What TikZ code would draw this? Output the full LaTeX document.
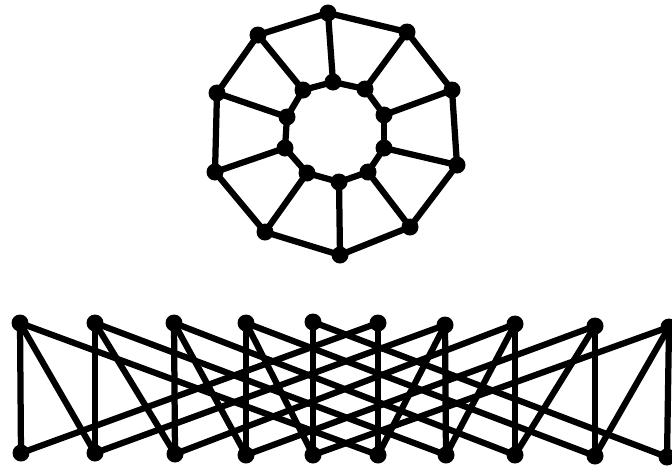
\documentclass[tikz,border=0pt]{standalone}
\usetikzlibrary{positioning}
\begin{document}
\begin{tikzpicture}[x=0.02cm, y=-0.02cm,
    dot/.style={circle, fill=black, inner sep=0pt, minimum size=0.34cm},
    edge/.style={line width=0.125cm, line join=round}]
  \useasboundingbox (0,0) rectangle (672,471);
  \clip (0,0) rectangle (672,471);

  % Prisme : cycle exterieur et cycle interieur
  \foreach \i/\x/\y in {0/328/13, 1/407/32, 2/452/90, 3/457/165, 4/410/227,
                        5/340/255, 6/265/232, 7/215/172, 8/217/93, 9/258/35} {
    \node[dot] (o\i) at (\x,\y) {};
  }
  \foreach \i/\x/\y in {0/333/82, 1/365/89, 2/384/115, 3/384/148, 4/368/172,
                        5/339/182, 6/307/173, 7/285/148, 8/287/117, 9/303/90} {
    \node[dot] (n\i) at (\x,\y) {};
  }
  \foreach \i in {0,...,9} {
    \pgfmathtruncatemacro{\j}{mod(\i+1,10)}
    \draw[edge] (o\i.center) -- (o\j.center);
    \draw[edge] (n\i.center) -- (n\j.center);
    \draw[edge] (o\i.center) -- (n\i.center);
  }

  % Dessin sur deux rangees
  \foreach \i/\xt/\yt/\xb/\yb in {1/20/323/21/453, 2/95/323/95/453, 3/174/323/175/454,
                                  4/246/323/246/455, 5/313/322/313/455, 6/378/323/378/455,
                                  7/445/325/446/455, 8/515/324/515/455, 9/595/326/595/456,
                                  10/669/327/667/457} {
    \node[dot] (t\i) at (\xt,\yt) {};
    \node[dot] (b\i) at (\xb,\yb) {};
    \draw[edge] (t\i.center) -- (b\i.center);
  }
  \foreach \i in {1,...,5} {
    \pgfmathtruncatemacro{\j}{\i+5}
    \draw[edge] (t\i.center) -- (b\j.center);
    \draw[edge] (b\i.center) -- (t\j.center);
  }
  \foreach \i/\j in {1/2, 2/3, 3/4, 4/5, 7/6, 8/7, 9/8, 10/9} {
    \draw[edge] (t\i.center) -- (b\j.center);
  }
\end{tikzpicture}
\end{document}
